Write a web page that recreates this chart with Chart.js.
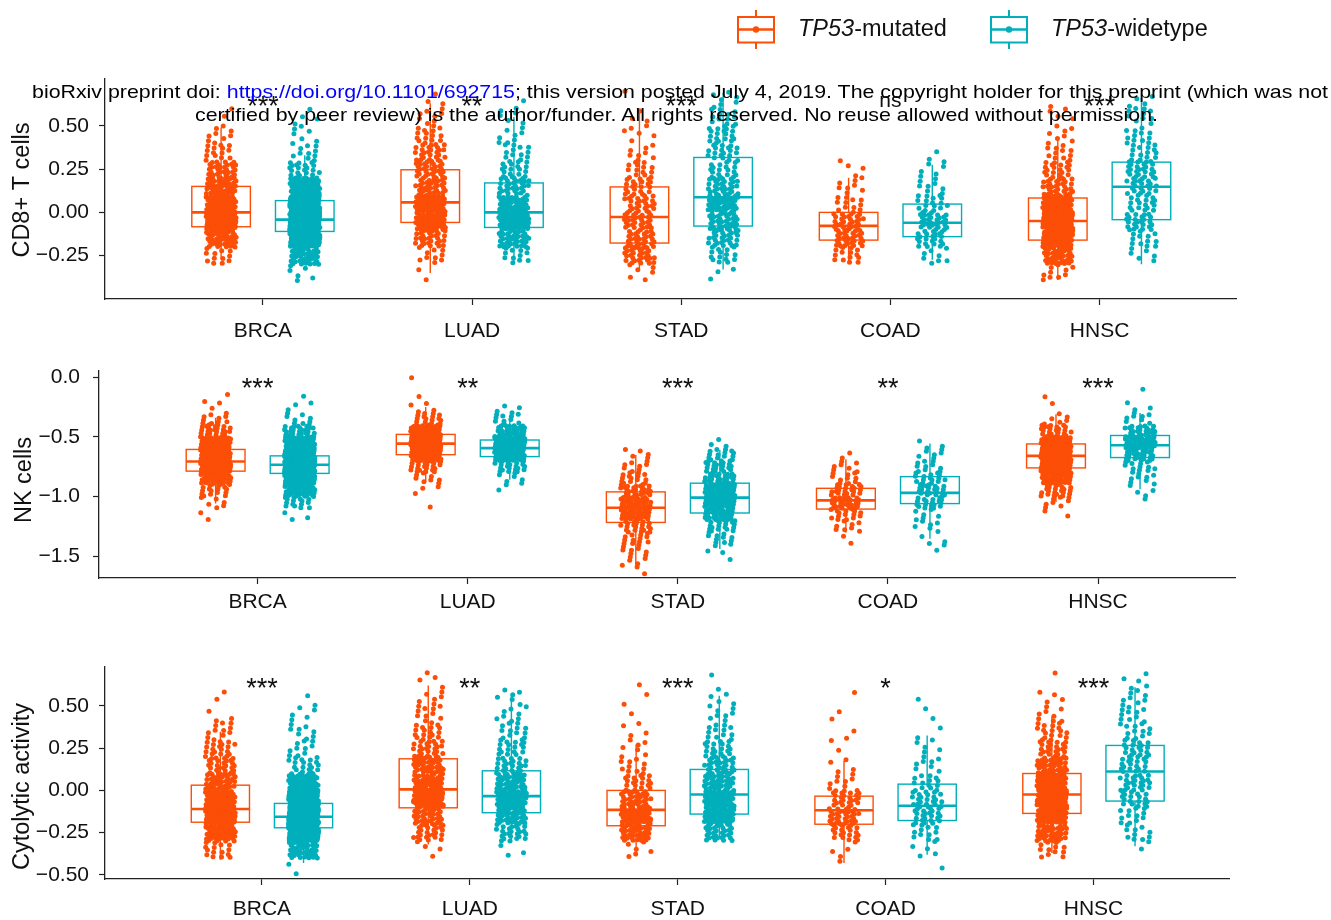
<!DOCTYPE html>
<html>
<head>
<meta charset="utf-8">
<script src="https://cdn.jsdelivr.net/npm/chart.js@4.4.1/dist/chart.umd.min.js"></script>
<style>
  body { margin: 0; background: #fff; width: 1331px; height: 920px; overflow: hidden; position: relative; font-family: "Liberation Sans", Arial, sans-serif; }
  canvas { position: absolute; left: 0; }
  #c1 { top: 0; }
  #c2 { top: 345px; }
  #c3 { top: 635px; }
  .wm { position: absolute; white-space: nowrap; font-size: 19px; line-height: 20px; color: #000; z-index: 5; transform-origin: 0 50%; }
  .wm span { color: #0000ff; }
</style>
</head>
<body>
<canvas id="c1" width="1331" height="345"></canvas>
<canvas id="c2" width="1331" height="290"></canvas>
<canvas id="c3" width="1331" height="285"></canvas>
<div class="wm" id="wm1" style="left:32px;top:82px">bioRxiv preprint doi: <span>https://doi.org/10.1101/692715</span>; this version posted July 4, 2019. The copyright holder for this preprint (which was not</div>
<div class="wm" id="wm2" style="left:195px;top:105px">certified by peer review) is the author/funder. All rights reserved. No reuse allowed without permission.</div>
<script>
const cancers = ['BRCA', 'LUAD', 'STAD', 'COAD', 'HNSC'];
const groupNames = ['TP53-mutated', 'TP53-widetype'];
const mutColor = '#FC4E07';
const wtColor = '#00AFBB';

// point counts per 0.1-wide bin, one row per cancer
const binWidth = 0.1;

// CD8+ T cells, bins from -0.5
const cd8BinStart = -0.5;
const cd8MutCounts = [
  [0, 0, 12, 45, 110, 62, 44, 32, 15, 8, 2, 0, 0],
  [0, 2, 10, 30, 52, 60, 35, 30, 25, 15, 8, 3, 0],
  [0, 6, 30, 30, 30, 25, 20, 14, 8, 6, 3, 1, 0],
  [0, 0, 14, 30, 28, 12, 8, 4, 0, 0, 0, 0, 0],
  [0, 10, 40, 75, 100, 65, 30, 20, 12, 7, 4, 1, 0]
];
const cd8WtCounts = [
  [0, 6, 40, 145, 250, 150, 70, 22, 10, 6, 4, 0, 0],
  [0, 0, 12, 38, 65, 45, 30, 18, 12, 8, 5, 2, 0],
  [0, 3, 15, 28, 35, 45, 30, 18, 20, 18, 12, 7, 0],
  [0, 0, 8, 22, 30, 16, 8, 6, 2, 0, 0, 0, 0],
  [0, 0, 6, 12, 24, 18, 22, 24, 14, 12, 10, 4, 0]
];
// [lower whisker, q1, median, q3, upper whisker]
const cd8MutBox = [
  [-0.27, -0.083, 0.0, 0.15, 0.49],
  [-0.35, -0.058, 0.058, 0.246, 0.63],
  [-0.33, -0.177, -0.027, 0.147, 0.6],
  [-0.29, -0.16, -0.078, 0.0, 0.2],
  [-0.39, -0.16, -0.05, 0.083, 0.43]
];
const cd8WtBox = [
  [-0.3, -0.11, -0.042, 0.068, 0.33],
  [-0.29, -0.087, 0.0, 0.17, 0.55],
  [-0.33, -0.079, 0.087, 0.317, 0.69],
  [-0.273, -0.14, -0.06, 0.048, 0.275],
  [-0.3, -0.042, 0.148, 0.29, 0.66]
];
const cd8Ticks = [-0.25, 0, 0.25, 0.5];
const cd8Sig = ['***', '**', '***', 'ns', '***'];

// NK cells, bins from -1.7
const nkBinStart = -1.7;
const nkMutCounts = [
  [0, 0, 0, 0, 0, 2, 6, 15, 40, 100, 85, 50, 25, 10, 3, 1, 0],
  [0, 0, 0, 0, 0, 0, 1, 3, 8, 22, 60, 110, 60, 15, 4, 1, 1],
  [1, 6, 8, 12, 20, 40, 38, 28, 14, 8, 5, 0, 0, 0, 0, 0, 0],
  [0, 0, 0, 2, 8, 15, 30, 22, 10, 7, 2, 0, 0, 0, 0, 0, 0],
  [0, 0, 0, 0, 0, 2, 8, 20, 45, 70, 110, 75, 22, 6, 1, 1, 0]
];
const nkWtCounts = [
  [0, 0, 0, 0, 0, 3, 15, 45, 110, 270, 150, 60, 28, 8, 3, 1, 0],
  [0, 0, 0, 0, 0, 0, 0, 2, 6, 20, 80, 90, 35, 10, 4, 0, 0],
  [0, 1, 4, 10, 18, 35, 45, 50, 30, 22, 14, 3, 0, 0, 0, 0, 0],
  [0, 0, 2, 3, 6, 6, 18, 22, 15, 10, 6, 3, 0, 0, 0, 0, 0],
  [0, 0, 0, 0, 0, 0, 1, 4, 8, 12, 30, 45, 28, 8, 3, 1, 0]
];
const nkMutBox = [
  [-1.06, -0.788, -0.707, -0.606, -0.34],
  [-0.88, -0.65, -0.557, -0.48, -0.25],
  [-1.6, -1.218, -1.095, -0.962, -0.652],
  [-1.305, -1.106, -1.033, -0.932, -0.688],
  [-1.046, -0.761, -0.66, -0.56, -0.31]
];
const nkWtBox = [
  [-1.02, -0.807, -0.734, -0.66, -0.45],
  [-0.86, -0.666, -0.595, -0.527, -0.33],
  [-1.44, -1.139, -1.01, -0.889, -0.61],
  [-1.354, -1.06, -0.97, -0.834, -0.557],
  [-0.94, -0.674, -0.571, -0.489, -0.3]
];
const nkTicks = [-1.5, -1.0, -0.5, 0.0];
const nkSig = ['***', '**', '***', '**', '***'];

// Cytolytic activity, bins from -0.5
const cytBinStart = -0.5;
const cytMutCounts = [
  [0, 15, 50, 100, 70, 40, 25, 20, 10, 3, 2, 0, 0],
  [0, 4, 25, 35, 65, 45, 40, 25, 17, 10, 6, 4, 0],
  [0, 6, 40, 55, 35, 20, 10, 6, 4, 1, 2, 1, 0],
  [1, 4, 20, 32, 25, 8, 4, 2, 2, 2, 1, 0, 0],
  [0, 12, 40, 50, 85, 80, 40, 25, 15, 8, 4, 1, 0]
];
const cytWtCounts = [
  [2, 41, 180, 260, 170, 50, 18, 10, 8, 5, 2, 0, 0],
  [0, 3, 25, 40, 60, 40, 25, 18, 12, 8, 6, 0, 0],
  [0, 0, 30, 50, 50, 40, 30, 20, 12, 8, 5, 1, 0],
  [1, 5, 12, 22, 22, 14, 8, 5, 2, 2, 1, 0, 0],
  [0, 2, 10, 12, 18, 25, 20, 18, 12, 10, 8, 5, 0]
];
const cytMutBox = [
  [-0.41, -0.188, -0.11, 0.031, 0.347],
  [-0.32, -0.103, 0.006, 0.187, 0.62],
  [-0.39, -0.209, -0.115, 0.0, 0.27],
  [-0.43, -0.2, -0.117, -0.034, 0.175],
  [-0.37, -0.136, -0.024, 0.1, 0.435]
];
const cytWtBox = [
  [-0.43, -0.221, -0.156, -0.077, 0.14],
  [-0.31, -0.132, -0.034, 0.116, 0.56],
  [-0.28, -0.14, -0.024, 0.124, 0.56],
  [-0.38, -0.178, -0.091, 0.037, 0.325],
  [-0.33, -0.063, 0.112, 0.266, 0.61]
];
const cytTicks = [-0.5, -0.25, 0, 0.25, 0.5];
const cytSig = ['***', '**', '***', '*', '***'];

Chart.defaults.font.family = '"Liberation Sans", Arial, sans-serif';
Chart.defaults.color = '#111';

const dodge = 0.2;
const boxHalf = 0.14;
const jitter = 0.072;

// spread each bin's points inside the bin; x/y offsets come from a fixed
// low-discrepancy sequence so the picture is the same on every load
function jitterPoints(counts, binStart, shift) {
  const pts = [];
  let k = 0;
  counts.forEach((row, ci) => {
    row.forEach((n, b) => {
      for (let j = 0; j < n; j++) {
        k++;
        const jx = ((0.5 + k * 0.7548776662) % 1) * 2 - 1;
        const jy = (0.5 + k * 0.5698402910) % 1;
        pts.push({ x: ci + shift + jx * jitter, y: binStart + (b + jy) * binWidth });
      }
    });
  });
  return pts;
}

function fmt(v, d) {
  return (v < 0 ? '\u2212' : '') + Math.abs(v).toFixed(d);
}

const boxPlugin = {
  id: 'boxes',
  beforeDatasetsDraw(chart, args, opts) {
    const { ctx, scales: { x, y } } = chart;
    const draw = (stats, shift, color) => {
      stats.forEach((s, i) => {
        const cx = x.getPixelForValue(i + shift);
        const l = x.getPixelForValue(i + shift - boxHalf);
        const r = x.getPixelForValue(i + shift + boxHalf);
        const [lo, q1, med, q3, hi] = s.map(v => y.getPixelForValue(v));
        ctx.save();
        ctx.strokeStyle = color;
        ctx.lineWidth = 1.4;
        ctx.beginPath();
        ctx.moveTo(cx, lo); ctx.lineTo(cx, q1);
        ctx.moveTo(cx, q3); ctx.lineTo(cx, hi);
        ctx.stroke();
        ctx.fillStyle = '#fff';
        ctx.fillRect(l, q3, r - l, q1 - q3);
        ctx.strokeRect(l, q3, r - l, q1 - q3);
        ctx.lineWidth = 2.6;
        ctx.beginPath();
        ctx.moveTo(l, med); ctx.lineTo(r, med);
        ctx.stroke();
        ctx.restore();
      });
    };
    draw(opts.mut, -dodge, mutColor);
    draw(opts.wt, dodge, wtColor);
  }
};

const sigPlugin = {
  id: 'sig',
  afterDatasetsDraw(chart, args, opts) {
    const { ctx, scales: { x, y } } = chart;
    ctx.save();
    ctx.fillStyle = '#111';
    ctx.textAlign = 'center';
    ctx.textBaseline = 'alphabetic';
    opts.labels.forEach((t, i) => {
      ctx.font = (t === 'ns' ? '21px' : '27px') + ' "Liberation Sans", Arial, sans-serif';
      ctx.fillText(t, x.getPixelForValue(i), y.getPixelForValue(opts.y) - (t === 'ns' ? 8 : 0));
    });
    ctx.restore();
  }
};

const yTitlePlugin = {
  id: 'yTitle',
  afterDraw(chart, args, opts) {
    const { ctx } = chart;
    ctx.save();
    ctx.translate(opts.x, opts.y);
    ctx.rotate(-Math.PI / 2);
    ctx.font = '23.5px "Liberation Sans", Arial, sans-serif';
    ctx.fillStyle = '#111';
    ctx.textAlign = 'center';
    ctx.textBaseline = 'middle';
    ctx.fillText(opts.text, 0, 0);
    ctx.restore();
  }
};

const legendPlugin = {
  id: 'keyLegend',
  afterDraw(chart, args, opts) {
    if (!opts.show) return;
    const { ctx } = chart;
    const items = [[756, 798, mutColor, groupNames[0]], [1009, 1051, wtColor, groupNames[1]]];
    items.forEach(([cx, tx, color, name]) => {
      ctx.save();
      ctx.strokeStyle = color;
      ctx.fillStyle = color;
      ctx.lineWidth = 2;
      ctx.beginPath();
      ctx.moveTo(cx, 10); ctx.lineTo(cx, 17);
      ctx.moveTo(cx, 42.5); ctx.lineTo(cx, 49);
      ctx.stroke();
      ctx.strokeRect(cx - 18, 17, 36, 25.5);
      ctx.lineWidth = 2.6;
      ctx.beginPath();
      ctx.moveTo(cx - 18, 29.5); ctx.lineTo(cx + 18, 29.5);
      ctx.stroke();
      ctx.beginPath();
      ctx.arc(cx, 29.5, 3.2, 0, Math.PI * 2);
      ctx.fill();
      ctx.fillStyle = '#111';
      ctx.textBaseline = 'middle';
      ctx.textAlign = 'left';
      const parts = name.split('-');
      ctx.font = 'italic 23.5px "Liberation Sans", Arial, sans-serif';
      ctx.fillText(parts[0], tx, 29.5);
      const w = ctx.measureText(parts[0]).width;
      ctx.font = '23.5px "Liberation Sans", Arial, sans-serif';
      ctx.fillText('-' + parts[1], tx + w, 29.5);
      ctx.restore();
    });
  }
};

function makePanel(id, p) {
  const axisLine = { color: '#222', width: 1.3 };
  const grid = { drawOnChartArea: false, drawTicks: true, tickLength: 6, tickColor: '#222', tickWidth: 1.2 };
  return new Chart(document.getElementById(id), {
    type: 'scatter',
    data: {
      datasets: [
        { label: groupNames[0], data: jitterPoints(p.mutCounts, p.binStart, -dodge), backgroundColor: mutColor, pointRadius: 2.5, borderWidth: 0 },
        { label: groupNames[1], data: jitterPoints(p.wtCounts, p.binStart, dodge), backgroundColor: wtColor, pointRadius: 2.5, borderWidth: 0 }
      ]
    },
    options: {
      responsive: false,
      animation: false,
      events: [],
      layout: { padding: { top: p.top, right: p.right, left: 0, bottom: 0 } },
      plugins: {
        legend: { display: false },
        tooltip: { enabled: false },
        boxes: { mut: p.mutBox, wt: p.wtBox },
        sig: { labels: p.sig, y: p.sigY },
        yTitle: { text: p.title, x: p.titleX, y: p.titleY },
        keyLegend: { show: !!p.legend }
      },
      scales: {
        x: {
          type: 'linear', min: -0.755, max: 4.652,
          afterFit: s => { s.height = p.xH; },
          afterBuildTicks: s => { s.ticks = cancers.map((c, i) => ({ value: i })); },
          ticks: { callback: v => cancers[v], padding: p.xPad, font: { size: 21 }, maxRotation: 0, autoSkip: false },
          grid: grid, border: axisLine
        },
        y: {
          type: 'linear', min: p.yMin, max: p.yMax,
          afterFit: s => { s.width = p.yW; },
          afterBuildTicks: s => { s.ticks = p.ticks.map(v => ({ value: v })); },
          ticks: { callback: v => fmt(v, p.dec), padding: p.yPad, font: { size: 21 } },
          grid: grid, border: axisLine
        }
      }
    },
    plugins: [boxPlugin, sigPlugin, yTitlePlugin, legendPlugin]
  });
}

makePanel('c1', {
  mutCounts: cd8MutCounts, wtCounts: cd8WtCounts, binStart: cd8BinStart,
  mutBox: cd8MutBox, wtBox: cd8WtBox, ticks: cd8Ticks, dec: 2, sig: cd8Sig, sigY: 0.56,
  yMin: -0.5, yMax: 0.77, top: 79, right: 95, xH: 46, yW: 105, xPad: 14, yPad: 10,
  title: 'CD8+ T cells', titleX: 23, titleY: 190, legend: true
});
makePanel('c2', {
  mutCounts: nkMutCounts, wtCounts: nkWtCounts, binStart: nkBinStart,
  mutBox: nkMutBox, wtBox: nkWtBox, ticks: nkTicks, dec: 1, sig: nkSig, sigY: -0.166,
  yMin: -1.684, yMax: 0.055, top: 20, right: 96, xH: 57, yW: 99, xPad: 6, yPad: 13,
  title: 'NK cells', titleX: 25, titleY: 135
});
makePanel('c3', {
  mutCounts: cytMutCounts, wtCounts: cytWtCounts, binStart: cytBinStart,
  mutBox: cytMutBox, wtBox: cytWtBox, ticks: cytTicks, dec: 2, sig: cytSig, sigY: 0.553,
  yMin: -0.524, yMax: 0.73, top: 32, right: 102, xH: 41, yW: 105, xPad: 12, yPad: 10,
  title: 'Cytolytic activity', titleX: 23, titleY: 151.5
});

// fit the preprint notice lines to their widths in the picture
[['wm1', 1296], ['wm2', 963]].forEach(([id, target]) => {
  const el = document.getElementById(id);
  const w = el.getBoundingClientRect().width;
  el.style.transform = 'scaleX(' + (target / w) + ')';
});
</script>
</body>
</html>
